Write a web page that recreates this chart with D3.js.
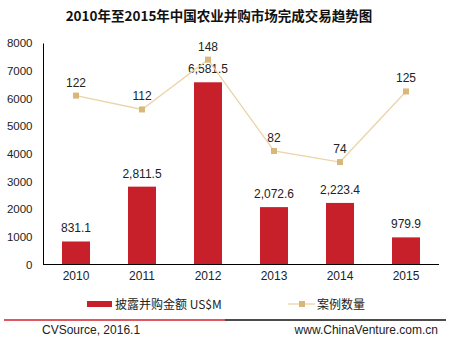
<!DOCTYPE html>
<html><head><meta charset="utf-8">
<script src="https://cdn.jsdelivr.net/npm/d3@7"></script>
<style>body{margin:0;background:#fff}svg{display:block}</style>
</head><body>
<script>
const years = ["2010","2011","2012","2013","2014","2015"];
const amounts = [831.1, 2811.5, 6581.5, 2072.6, 2223.4, 979.9];
const amountLabels = ["831.1","2,811.5","6,581.5","2,072.6","2,223.4","979.9"];
const counts = [122, 112, 148, 82, 74, 125];
const yTicks = [0,1000,2000,3000,4000,5000,6000,7000,8000];
const title = "2010年至2015年中国农业并购市场完成交易趋势图";
const legendBar = "披露并购金额 US$M";
const legendLine = "案例数量";
const footerLeft = "CVSource, 2016.1";
const footerRight = "www.ChinaVenture.com.cn";

const W = 451, H = 344;
const font = "'Liberation Sans', Arial, sans-serif";
const svg = d3.select("body").append("svg").attr("width", W).attr("height", H);

const x = d3.scaleBand().domain(years).range([43, 439]).paddingInner(0.576).paddingOuter(0.288);
const y = d3.scaleLinear().domain([0, 8000]).range([264.5, 43]);
const y2 = d3.scaleLinear().domain([0, 160]).range([264.5, 43]);

svg.append("text").attr("x", 219).attr("y", 21).attr("text-anchor", "middle")
  .attr("font-family", "'Noto Sans CJK SC', sans-serif").attr("font-weight", "bold")
  .attr("font-size", 13.5).attr("fill", "#111").text(title);

// y axis
const ya = svg.append("g").attr("transform", "translate(43,0)")
  .call(d3.axisLeft(y).tickValues(yTicks).tickSize(0).tickPadding(10.5).tickFormat(d3.format("d")));
ya.select(".domain").attr("stroke", "#000");
ya.selectAll("text").attr("font-family", font).attr("font-size", 11.5).attr("fill", "#222");

// bars
svg.selectAll("rect.bar").data(amounts).join("rect").attr("class", "bar")
  .attr("x", (d, i) => x(years[i])).attr("width", x.bandwidth())
  .attr("y", d => y(d)).attr("height", d => y(0) - y(d)).attr("fill", "#c8202a");

// x axis
const xa = svg.append("g").attr("transform", "translate(0,264.5)")
  .call(d3.axisBottom(x).tickSize(0).tickPadding(7));
xa.select(".domain").attr("stroke", "#000").attr("d", "M43,0H439");
xa.selectAll("text").attr("font-family", font).attr("font-size", 12).attr("fill", "#222");

// bar labels
svg.selectAll("text.bl").data(amounts).join("text").attr("class", "bl")
  .attr("x", (d, i) => x(years[i]) + x.bandwidth() / 2).attr("y", d => y(d) - 9)
  .attr("text-anchor", "middle").attr("font-family", font).attr("font-size", 12).attr("fill", "#222")
  .text((d, i) => amountLabels[i]);

// line
const line = d3.line().x((d, i) => x(years[i]) + x.bandwidth() / 2).y(d => y2(d));
svg.append("path").datum(counts).attr("d", line).attr("fill", "none")
  .attr("stroke", "#ecd3a8").attr("stroke-width", 1.3);
svg.selectAll("rect.pt").data(counts).join("rect").attr("class", "pt")
  .attr("x", (d, i) => x(years[i]) + x.bandwidth() / 2 - 3).attr("y", d => y2(d) - 3)
  .attr("width", 6).attr("height", 6).attr("fill", "#d8b878");
svg.selectAll("text.pl").data(counts).join("text").attr("class", "pl")
  .attr("x", (d, i) => x(years[i]) + x.bandwidth() / 2).attr("y", d => y2(d) - 9)
  .attr("text-anchor", "middle").attr("font-family", font).attr("font-size", 12).attr("fill", "#222")
  .text(d => d);

// legend
svg.append("rect").attr("x", 87).attr("y", 301).attr("width", 25).attr("height", 6).attr("fill", "#c8202a");
svg.append("text").attr("x", 115).attr("y", 308.5).attr("font-family", "'Noto Sans CJK SC', sans-serif")
  .attr("font-size", 12).attr("fill", "#222").text(legendBar);
svg.append("line").attr("x1", 288).attr("x2", 315).attr("y1", 304).attr("y2", 304)
  .attr("stroke", "#ecd3a8").attr("stroke-width", 1.3);
svg.append("rect").attr("x", 299).attr("y", 301).attr("width", 6).attr("height", 6).attr("fill", "#d8b878");
svg.append("text").attr("x", 317).attr("y", 308.5).attr("font-family", "'Noto Sans CJK SC', sans-serif")
  .attr("font-size", 12).attr("fill", "#222").text(legendLine);

// footer
svg.append("line").attr("x1", 4).attr("x2", 225).attr("y1", 320).attr("y2", 320).attr("stroke", "#d4202a").attr("stroke-width", 1.5);
svg.append("line").attr("x1", 225).attr("x2", 446).attr("y1", 320).attr("y2", 320).attr("stroke", "#111").attr("stroke-width", 1.5);
svg.append("text").attr("x", 42).attr("y", 334).attr("font-family", font).attr("font-size", 12).attr("fill", "#222").text(footerLeft);
svg.append("text").attr("x", 438).attr("y", 334).attr("text-anchor", "end").attr("font-family", font).attr("font-size", 12).attr("fill", "#222").text(footerRight);
</script>
</body></html>
